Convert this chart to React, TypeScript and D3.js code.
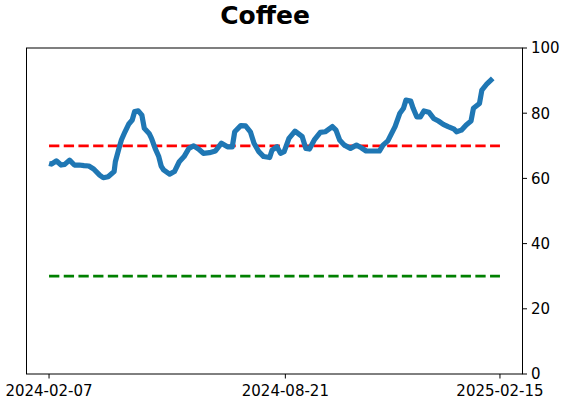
import React from "react";
import * as d3 from "d3";

const dates = [
  "2024-02-07", "2024-02-09", "2024-02-13", "2024-02-17", "2024-02-20", "2024-02-24",
  "2024-02-28", "2024-03-03", "2024-03-07", "2024-03-11", "2024-03-15", "2024-03-20",
  "2024-03-23", "2024-03-27", "2024-04-01", "2024-04-02", "2024-04-05", "2024-04-07",
  "2024-04-10", "2024-04-13", "2024-04-16", "2024-04-18", "2024-04-21", "2024-04-24",
  "2024-04-26", "2024-04-30", "2024-05-02", "2024-05-05", "2024-05-08", "2024-05-10",
  "2024-05-12", "2024-05-17", "2024-05-21", "2024-05-25", "2024-05-29", "2024-06-02",
  "2024-06-06", "2024-06-10", "2024-06-14", "2024-06-19", "2024-06-24", "2024-06-29",
  "2024-07-04", "2024-07-08", "2024-07-10", "2024-07-15", "2024-07-19", "2024-07-23",
  "2024-07-26", "2024-07-30", "2024-08-03", "2024-08-08", "2024-08-10", "2024-08-14",
  "2024-08-17", "2024-08-20", "2024-08-24", "2024-08-29", "2024-09-04", "2024-09-07",
  "2024-09-10", "2024-09-14", "2024-09-19", "2024-09-23", "2024-09-29", "2024-10-02",
  "2024-10-05", "2024-10-09", "2024-10-14", "2024-10-19", "2024-10-23", "2024-10-27",
  "2024-11-02", "2024-11-07", "2024-11-10", "2024-11-14", "2024-11-20", "2024-11-24",
  "2024-11-27", "2024-11-29", "2024-12-03", "2024-12-05", "2024-12-08", "2024-12-11",
  "2024-12-14", "2024-12-18", "2024-12-22", "2024-12-26", "2024-12-30", "2025-01-03",
  "2025-01-08", "2025-01-10", "2025-01-14", "2025-01-18", "2025-01-22", "2025-01-24",
  "2025-01-29", "2025-01-31", "2025-02-04", "2025-02-09",
];

const values = [
  64.6, 64.4, 65.4, 64.1, 64.3, 65.6,
  64.1, 64.1, 63.9, 63.8, 62.9, 61.0,
  60.2, 60.5, 62.1, 65.1, 69.2, 71.8,
  74.3, 76.6, 77.9, 80.5, 80.7, 79.4,
  75.4, 73.8, 72.3, 69.2, 66.7, 63.8,
  62.6, 61.3, 62.1, 65.1, 66.7, 69.2,
  70.0, 69.0, 67.7, 67.9, 68.4, 70.8,
  69.7, 69.7, 74.3, 76.2, 76.1, 74.3,
  70.8, 68.2, 66.7, 66.4, 68.7, 69.7,
  67.7, 68.2, 72.3, 74.5, 72.8, 69.2,
  69.0, 71.8, 74.1, 74.3, 75.9, 74.8,
  71.8, 70.2, 69.2, 70.2, 69.4, 68.4,
  68.4, 68.4, 70.2, 71.5, 75.9, 80.0,
  81.5, 84.0, 83.7, 81.5, 78.9, 78.9,
  80.7, 80.3, 78.4, 77.6, 76.6, 75.9,
  75.1, 74.3, 74.8, 76.4, 77.6, 81.5,
  83.0, 87.1, 88.9, 90.7,
];

const xTickLabels = ["2024-02-07", "2024-08-21", "2025-02-15"];
const yTicks = [0, 20, 40, 60, 80, 100];
const upperLevel = 70;
const lowerLevel = 30;
const refStart = "2024-02-07";
const refEnd = "2025-02-15";

const parse = d3.utcParse("%Y-%m-%d");

const W = 562;
const H = 402;
const left = 26.5;
const right = 522.5;
const top = 48;
const bottom = 374;
const font = "DejaVu Sans, sans-serif";

export default function App() {
  const t0 = parse(refStart)!.getTime();
  const t1 = parse(refEnd)!.getTime();
  const pad = (t1 - t0) * 0.05;
  const x = d3
    .scaleUtc()
    .domain([new Date(t0 - pad), new Date(t1 + pad)])
    .range([left, right]);
  const y = d3.scaleLinear().domain([0, 100]).range([bottom, top]);

  const points = dates.map((d, i) => ({ date: parse(d)!, value: values[i] }));
  const line = d3
    .line<{ date: Date; value: number }>()
    .x((d) => x(d.date))
    .y((d) => y(d.value))
    .curve(d3.curveLinear);

  const xs = x(parse(refStart)!);
  const xe = x(parse(refEnd)!);

  return (
    <svg width={W} height={H} style={{ position: "absolute", left: 0, top: 0 }}>
      <rect width={W} height={H} fill="white" />
      <text x={265} y={23.5} textAnchor="middle" fontFamily={font} fontWeight="bold" fontSize={25}>
        Coffee
      </text>
      <line x1={xs} x2={xe} y1={y(upperLevel)} y2={y(upperLevel)} stroke="#ff0000" strokeWidth={2.8} strokeDasharray="10.3 4.4" />
      <line x1={xs} x2={xe} y1={y(lowerLevel)} y2={y(lowerLevel)} stroke="#008000" strokeWidth={2.8} strokeDasharray="10.3 4.4" />
      <path d={line(points) ?? ""} fill="none" stroke="#1f77b4" strokeWidth={5.2} strokeLinejoin="round" strokeLinecap="butt" />
      <rect x={left} y={top} width={right - left} height={bottom - top} fill="none" stroke="black" strokeWidth={1} />
      {xTickLabels.map((t) => {
        const px = x(parse(t)!);
        return (
          <g key={t}>
            <line x1={px} x2={px} y1={bottom} y2={bottom + 4.5} stroke="black" />
            <text x={px} y={bottom + 22} textAnchor="middle" fontFamily={font} fontSize={15}>
              {t}
            </text>
          </g>
        );
      })}
      {yTicks.map((t) => (
        <g key={t}>
          <line x1={right} x2={right + 4.5} y1={y(t)} y2={y(t)} stroke="black" />
          <text x={right + 8.5} y={y(t)} dy="0.36em" fontFamily={font} fontSize={15}>
            {t}
          </text>
        </g>
      ))}
    </svg>
  );
}
